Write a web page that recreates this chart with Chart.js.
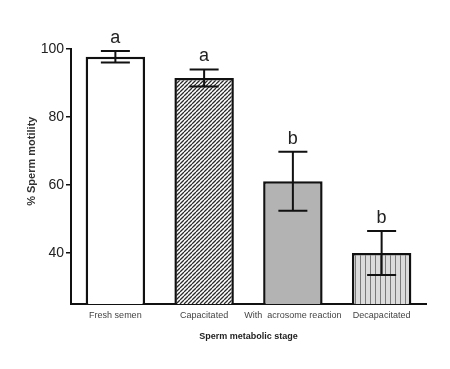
<!DOCTYPE html>
<html>
<head>
<meta charset="utf-8">
<script src="https://cdn.jsdelivr.net/npm/chart.js@4"></script>
<style>
  html, body { margin: 0; padding: 0; background: #fff; }
  #wrap { width: 450px; height: 369px; position: relative; }
</style>
</head>
<body>
<div id="wrap"><canvas id="myChart"></canvas></div>
<script>
// values
const stages = ['Fresh semen', 'Capacitated', 'With  acrosome reaction', 'Decapacitated'];
const motility = [97.7, 91.5, 61.1, 40.0];
const errors = [1.7, 2.5, 8.7, 6.5];
const letters = ['a', 'a', 'b', 'b'];
const yTicks = [40, 60, 80, 100];
const yTitle = '% Sperm motility';

const FONT = '"Liberation Sans", Arial, sans-serif';

function makePattern(draw, w, h) {
  const c = document.createElement('canvas');
  c.width = w;
  c.height = h;
  draw(c.getContext('2d'), w, h);
  return c.getContext('2d').createPattern(c, 'repeat');
}

const hatch = makePattern((g, w, h) => {
  g.fillStyle = '#ffffff';
  g.fillRect(0, 0, w, h);
  g.strokeStyle = '#2a2a2a';
  g.lineWidth = 1.3;
  g.beginPath();
  for (let k = -1; k <= 1; k++) {
    g.moveTo(k * w, h);
    g.lineTo(k * w + w, 0);
  }
  g.stroke();
}, 4, 4);

const vstripes = makePattern((g, w, h) => {
  g.fillStyle = '#dcdcdc';
  g.fillRect(0, 0, w, h);
  g.fillStyle = '#7a7a7a';
  g.fillRect(0, 0, 1, h);
}, 5, 5);

const fills = ['#ffffff', hatch, '#b3b3b3', vstripes];

// error bars, significance letters and the y title (placed off-centre like the original)
const errorBars = {
  id: 'errorBars',
  afterDatasetsDraw(chart) {
    const ctx = chart.ctx;
    const y = chart.scales.y;
    const meta = chart.getDatasetMeta(0);
    ctx.save();
    ctx.strokeStyle = '#111';
    ctx.lineWidth = 2;
    meta.data.forEach((bar, i) => {
      const x = bar.x;
      const top = y.getPixelForValue(motility[i] + errors[i]);
      const bot = y.getPixelForValue(motility[i] - errors[i]);
      const half = 14.5;
      ctx.beginPath();
      ctx.moveTo(x, top);
      ctx.lineTo(x, bot);
      ctx.moveTo(x - half, top);
      ctx.lineTo(x + half, top);
      ctx.moveTo(x - half, bot);
      ctx.lineTo(x + half, bot);
      ctx.stroke();
      ctx.fillStyle = '#222';
      ctx.font = '18px ' + FONT;
      ctx.textAlign = 'center';
      ctx.textBaseline = 'alphabetic';
      ctx.fillText(letters[i], x, top - 8);
    });

    ctx.translate(32, y.getPixelForValue(67));
    ctx.rotate(-Math.PI / 2);
    ctx.fillStyle = '#333';
    ctx.font = 'bold 11px ' + FONT;
    ctx.textAlign = 'center';
    ctx.textBaseline = 'middle';
    ctx.fillText(yTitle, 0, 0);
    ctx.restore();
  }
};

const ctx = document.getElementById('myChart').getContext('2d');
const chart = new Chart(ctx, {
  type: 'bar',
  data: {
    labels: stages,
    datasets: [{
      data: motility,
      backgroundColor: fills,
      borderColor: '#111',
      borderWidth: 2.5,
      borderSkipped: 'start',
      categoryPercentage: 1,
      barPercentage: 0.67,
    }]
  },
  options: {
    responsive: true,
    maintainAspectRatio: false,
    animation: false,
    layout: { padding: { left: 23, right: 24, top: 49, bottom: 23 } },
    plugins: {
      legend: { display: false },
      tooltip: { enabled: false },
    },
    scales: {
      x: {
        grid: { display: false, drawTicks: false },
        border: { display: true, color: '#111', width: 2 },
        ticks: {
          color: '#444',
          padding: 6,
          maxRotation: 0,
          autoSkip: false,
          font: { family: FONT, size: 9 },
        },
        title: {
          display: true,
          text: 'Sperm metabolic stage',
          color: '#222',
          font: { family: FONT, size: 9, weight: 'bold' },
        },
        afterFit(scale) { scale.height = 42; },
      },
      y: {
        min: 25,
        max: 100,
        afterBuildTicks(scale) { scale.ticks = yTicks.map(v => ({ value: v })); },
        grid: { display: true, drawOnChartArea: false, drawTicks: true, tickLength: 5, color: '#111', lineWidth: 1.5 },
        border: { display: true, color: '#111', width: 2 },
        ticks: {
          color: '#222',
          padding: 2,
          font: { family: FONT, size: 14 },
        },
        afterFit(scale) { scale.width = 48; },
      }
    }
  },
  plugins: [errorBars]
});
</script>
</body>
</html>
